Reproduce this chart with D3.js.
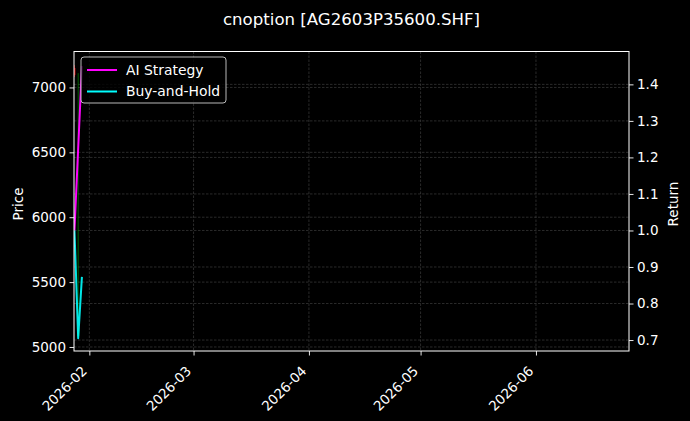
<!DOCTYPE html>
<html><head><meta charset="utf-8">
<script src="https://cdn.jsdelivr.net/npm/d3@7"></script>
<style>
html,body{margin:0;padding:0;background:#000;}
svg{display:block;font-family:"DejaVu Sans",sans-serif;}
</style></head>
<body><svg id="c" width="690" height="421"></svg>
<script>
// ---- data ----
const title = "cnoption [AG2603P35600.SHF]";
const dates = ["2026-01-28","2026-01-29","2026-01-30"];
const aiStrategy = [1.0, 1.225, 1.45];
const buyHold = [1.0, 0.705, 0.873];
const candleDates = ["2026-01-28","2026-01-29"];
const candleOpen = [7150, 5085];
const candleClose = [7095, 5150];
const candleHigh = [7172, 7110];
const candleLow = [7080, 5074];
const xDomain = ["2026-01-27T21:00:00","2026-06-26T00:00:00"];
const xTicks = ["2026-02-01","2026-03-01","2026-04-01","2026-05-01","2026-06-01"];
const priceDomain = [4969, 7277];
const priceTicks = [5000, 5500, 6000, 6500, 7000];
const returnDomain = [0.670, 1.490];
const returnTicks = [0.7, 0.8, 0.9, 1.0, 1.1, 1.2, 1.3, 1.4];
const legendItems = [{name:"AI Strategy", color:"#ff00ff"},{name:"Buy-and-Hold", color:"#00ffff"}];

// ---- layout ----
const L = 74, R = 629, T = 51.5, B = 351;
const svg = d3.select("#c");
svg.append("rect").attr("width",690).attr("height",421).attr("fill","#000");

const parse = d3.isoParse;
const x = d3.scaleTime().domain(xDomain.map(parse)).range([L, R]);
const yP = d3.scaleLinear().domain(priceDomain).range([B, T]);
const yR = d3.scaleLinear().domain(returnDomain).range([B, T]);

const defs = svg.append("defs");
defs.append("clipPath").attr("id","clip").append("rect")
  .attr("x",L).attr("y",T).attr("width",R-L).attr("height",B-T);

// grids
const grid = svg.append("g").attr("stroke","#666").attr("stroke-width",0.6)
  .attr("stroke-dasharray","2.5,1.5").attr("stroke-opacity",0.7);
xTicks.forEach(t=>grid.append("line").attr("x1",x(parse(t))).attr("x2",x(parse(t))).attr("y1",T).attr("y2",B));
priceTicks.forEach(t=>grid.append("line").attr("x1",L).attr("x2",R).attr("y1",yP(t)).attr("y2",yP(t)));
returnTicks.forEach(t=>grid.append("line").attr("x1",L).attr("x2",R).attr("y1",yR(t)).attr("y2",yR(t)));

// candles
const plot = svg.append("g").attr("clip-path","url(#clip)");
const dayW = x(parse("2026-01-29")) - x(parse("2026-01-28"));
candleDates.forEach((d,i)=>{
  const up = candleClose[i] >= candleOpen[i];
  const col = up ? "#00a000" : "#ff0000";
  const cx = x(parse(d));
  plot.append("line").attr("x1",cx).attr("x2",cx)
    .attr("y1",yP(candleHigh[i])).attr("y2",yP(candleLow[i]))
    .attr("stroke",col).attr("stroke-width",1).attr("stroke-opacity",0.6);
  const top = yP(Math.max(candleOpen[i],candleClose[i]));
  const bot = yP(Math.min(candleOpen[i],candleClose[i]));
  plot.append("rect").attr("x",cx-dayW*0.3).attr("width",dayW*0.6)
    .attr("y",top).attr("height",Math.max(1,bot-top))
    .attr("fill",col).attr("fill-opacity",0.6);
});

// return lines
const line = d3.line().x((d,i)=>x(parse(dates[i]))).y(d=>yR(d));
plot.append("path").datum(aiStrategy).attr("d",line).attr("fill","none")
  .attr("stroke",legendItems[0].color).attr("stroke-width",2).attr("stroke-linejoin","round");
plot.append("path").datum(buyHold).attr("d",line).attr("fill","none")
  .attr("stroke",legendItems[1].color).attr("stroke-opacity",0.9).attr("stroke-width",2).attr("stroke-linejoin","round");

// axes
const fs = "13.5px";
const ax = svg.append("g").attr("transform",`translate(0,${B})`)
  .call(d3.axisBottom(x).tickValues(xTicks.map(parse)).tickFormat(d3.timeFormat("%Y-%m")).tickSize(4.5).tickPadding(3));
ax.selectAll("text").attr("text-anchor","end").attr("x",0).attr("y",0).attr("dx",0)
  .attr("dy","0.73em").attr("transform","translate(-9,14) rotate(-45)");
const ayl = svg.append("g").attr("transform",`translate(${L},0)`)
  .call(d3.axisLeft(yP).tickValues(priceTicks).tickFormat(d3.format("d")).tickSize(4.5).tickPadding(3.5));
const ayr = svg.append("g").attr("transform",`translate(${R},0)`)
  .call(d3.axisRight(yR).tickValues(returnTicks).tickFormat(d3.format(".1f")).tickSize(4.5).tickPadding(3.5));
[ax,ayl,ayr].forEach(g=>{
  g.select(".domain").remove();
  g.selectAll("line").attr("stroke","#fff").attr("stroke-width",0.9);
  g.selectAll("text").attr("fill","#fff").style("font-size",fs).style("font-family","DejaVu Sans");
});

// frame
svg.append("rect").attr("x",L).attr("y",T).attr("width",R-L).attr("height",B-T)
  .attr("fill","none").attr("stroke","#fff").attr("stroke-width",1);

// labels
svg.append("text").attr("x",(L+R)/2).attr("y",25).attr("text-anchor","middle")
  .attr("fill","#fff").style("font-size","16.6px").text(title);
svg.append("text").attr("transform",`translate(22.5,204) rotate(-90)`).attr("text-anchor","middle")
  .attr("fill","#fff").style("font-size","13.5px").text("Price");
svg.append("text").attr("transform",`translate(678,204) rotate(-90)`).attr("text-anchor","middle")
  .attr("fill","#fff").style("font-size","13.5px").text("Return");

// legend
const lg = svg.append("g").attr("transform","translate(81,57)");
lg.append("rect").attr("width",145).attr("height",46).attr("rx",3)
  .attr("fill","#000").attr("fill-opacity",0.8).attr("stroke","#ccc").attr("stroke-opacity",0.9).attr("stroke-width",1);
legendItems.forEach((it,i)=>{
  const yy = 13 + i*21.5;
  lg.append("line").attr("x1",6).attr("x2",36).attr("y1",yy).attr("y2",yy)
    .attr("stroke",it.color).attr("stroke-width",2);
  lg.append("text").attr("x",45).attr("y",yy).attr("dy","0.35em").attr("fill","#fff")
    .style("font-size","13.9px").text(it.name);
});
</script></body></html>
